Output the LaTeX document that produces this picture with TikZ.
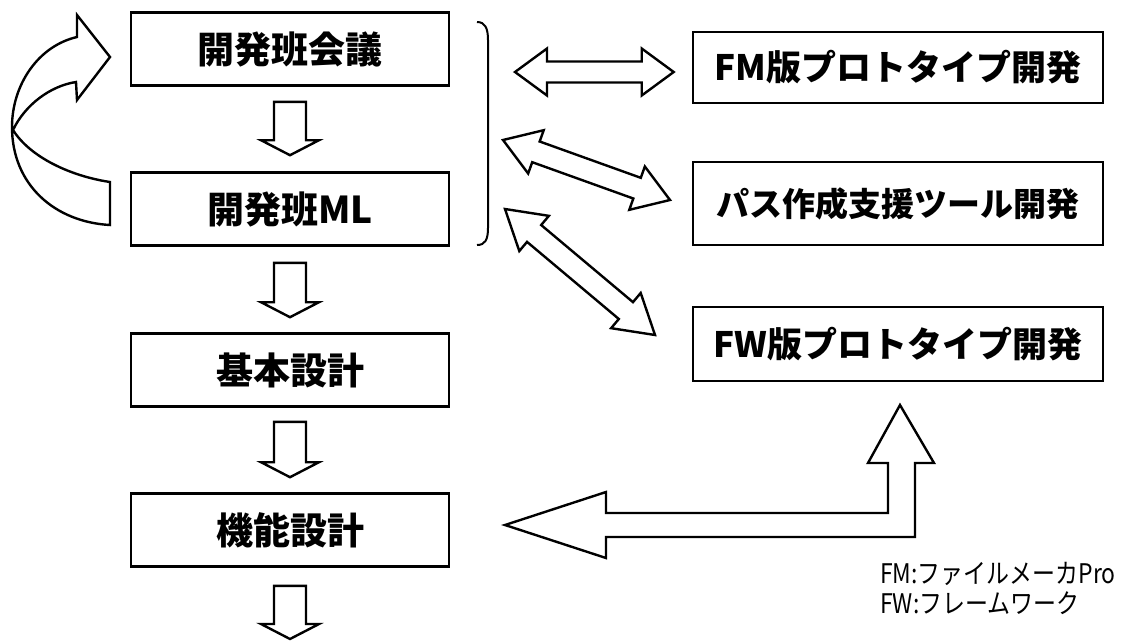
\documentclass[tikz,border=0pt]{standalone}
\usepackage{fontspec}
\newfontfamily\jp{Noto Sans CJK JP}
\usetikzlibrary{calc}
\tikzset{
  lbox/.style={draw, line width=2.6pt, minimum width=318pt, minimum height=73pt, inner sep=0pt,
    font=\jp\bfseries\fontsize{37pt}{40pt}\selectfont},
  rbox/.style={draw, line width=2.6pt, minimum width=410pt, inner sep=0pt,
    font=\jp\bfseries\fontsize{35pt}{40pt}\selectfont},
  barrow/.style={draw, fill=white, line width=2.4pt, line join=miter},
  legtext/.style={anchor=base west, inner sep=0pt, font=\jp\fontsize{27pt}{30pt}\selectfont},
}
% single block arrow: tail #1, tip #2, head length #3, head half-width #4, shaft half-width #5
\newcommand\myOneArrow[5]{%
  \coordinate (hb) at ($(#2)!#3!(#1)$);
  \draw[barrow] ($(#1)!#5!90:(#2)$) -- ($(hb)!#5!-90:(#1)$) -- ($(hb)!#4!-90:(#1)$) -- (#2)
    -- ($(hb)!#4!90:(#1)$) -- ($(hb)!#5!90:(#1)$) -- ($(#1)!#5!-90:(#2)$) -- cycle;}
% double block arrow between tips #1 and #2
\newcommand\myTwoArrow[5]{%
  \coordinate (ha) at ($(#1)!#3!(#2)$);
  \coordinate (hb) at ($(#2)!#3!(#1)$);
  \draw[barrow] (#1) -- ($(ha)!#4!90:(#2)$) -- ($(ha)!#5!90:(#2)$) -- ($(hb)!#5!-90:(#1)$)
    -- ($(hb)!#4!-90:(#1)$) -- (#2) -- ($(hb)!#4!90:(#1)$) -- ($(hb)!#5!90:(#1)$)
    -- ($(ha)!#5!-90:(#2)$) -- ($(ha)!#4!-90:(#2)$) -- cycle;}
\begin{document}
\begin{tikzpicture}[x=1pt, y=-1pt]
\useasboundingbox (0,0) rectangle (1122,641);

% left column
\node[lbox] (b1) at (290,49)  {開発班会議};
\node[lbox] (b2) at (290,209) {開発班ML};
\node[lbox] (b3) at (290,370) {基本設計};
\node[lbox] (b4) at (290,530) {機能設計};

% right column
\node[rbox, minimum height=71pt] (r1) at (898,67.5) {FM版プロトタイプ開発};
\node[rbox, minimum height=83pt, font=\jp\bfseries\fontsize{33pt}{40pt}\selectfont] (r2) at (898,203.5) {パス作成支援ツール開発};
\node[rbox, minimum height=74pt] (r3) at (898,344) {FW版プロトタイプ開発};

% down arrows
\coordinate (a1t) at ($(b1.south)+(0,15)$);  \coordinate (a1h) at ($(b2.north)+(0,-16)$);
\coordinate (a2t) at ($(b2.south)+(0,16)$);  \coordinate (a2h) at ($(b3.north)+(0,-15)$);
\coordinate (a3t) at ($(b3.south)+(0,14)$);  \coordinate (a3h) at ($(b4.north)+(0,-15)$);
\coordinate (a4t) at ($(b4.south)+(0,18)$);  \coordinate (a4h) at (290,639);
\myOneArrow{a1t}{a1h}{15pt}{29pt}{16pt}
\myOneArrow{a2t}{a2h}{15pt}{29pt}{16pt}
\myOneArrow{a3t}{a3h}{15pt}{29pt}{16pt}
\myOneArrow{a4t}{a4h}{15pt}{29pt}{16pt}

% bracket
\draw[line width=2pt] (477,22) .. controls (485,22) and (488,28) .. (488,40) -- (488,228)
  .. controls (488,240) and (485,245) .. (477,245);

% double arrows
\coordinate (d1a) at (515,72);  \coordinate (d1b) at ($(r1.west)+(-18,4.5)$);
\coordinate (d2a) at (503,140); \coordinate (d2b) at (670,200);
\coordinate (d3a) at (505,209); \coordinate (d3b) at (655,335);
\myTwoArrow{d1a}{d1b}{32pt}{23.5pt}{10.5pt}
\myTwoArrow{d2a}{d2b}{35pt}{23pt}{11pt}
\myTwoArrow{d3a}{d3b}{38pt}{23pt}{11pt}

% L-shaped arrow
\coordinate (lt) at (505,525);
\coordinate (ut) at (900,405);
\draw[barrow] (lt) -- (606,492) -- (606,513) -- (888,513) -- (888,463) -- (868,463) -- (ut)
  -- (934,463) -- (915,463) -- (915,537) -- (606,537) -- (606,558) -- cycle;

% curved return arrow
\draw[barrow] (110,57) -- (77,15) -- (77,37) .. controls (38,46) and (12,85) .. (12,127)
  .. controls (12,185) and (55,222) .. (110,225) -- (110,182)
  .. controls (70,176) and (30,157) .. (13,130)
  .. controls (25,105) and (50,86) .. (76,82) -- (77,100) -- cycle;

% legend
\node[legtext] (leg1) at (880,583) {\scalebox{0.85}[1]{FM:ファイルメーカPro}};
\node[legtext] (leg2) at (880,613) {\scalebox{0.85}[1]{FW:フレームワーク}};
\end{tikzpicture}
\end{document}
